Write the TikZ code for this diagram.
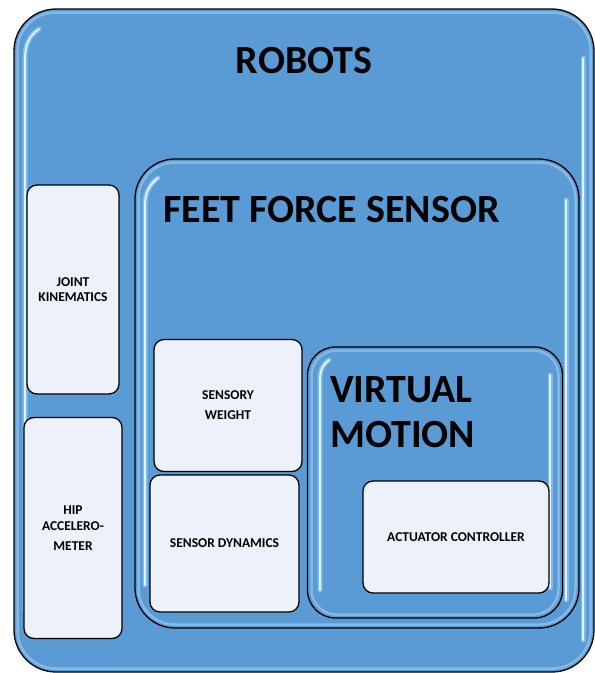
\documentclass[tikz,border=0pt]{standalone}
\usepackage{fontspec}
\setmainfont{Carlito}
\usetikzlibrary{calc}
\definecolor{boxblue}{RGB}{91,155,213}
\definecolor{paleface}{RGB}{237,241,249}
\definecolor{glint}{RGB}{228,249,255}
\definecolor{rimblue}{RGB}{150,198,238}
\definecolor{halo}{RGB}{160,215,250}

\tikzset{
  bluebox/.style={draw=black, line width=1.3pt, fill=boxblue, rectangle, inner sep=0pt},
  palebox/.style={draw=black, line width=1.3pt, fill=paleface, rectangle, rounded corners=10pt, inner sep=0pt},
  rim/.style={draw=rimblue, line width=2.5pt, opacity=0.7},
  halostroke/.style={draw=halo, line width=5pt, line cap=round, opacity=0.55},
  shine/.style={draw=glint, line width=1.8pt, line cap=round, opacity=0.95},
  title/.style={font=\bfseries\fontsize{40}{45}\selectfont, inner sep=0pt},
  small/.style={font=\bfseries\fontsize{13.5}{14.5}\selectfont, align=center, inner sep=0pt},
}

\begin{document}
\begin{tikzpicture}[x=1pt,y=-1pt]
\useasboundingbox (0,0) rectangle (595,673);

% outer frame
\node[bluebox, rounded corners=42pt, minimum width=580pt, minimum height=663pt] (robots) at (304,340.5) {};
\draw[rim, rounded corners=38pt] (17.5,12.5) rectangle (590.5,668.5);
\foreach \s in {halostroke,shine}{
  \draw[\s] (25,610) -- (25,58) .. controls (25,44) and (30,35) .. (39,29);
  \draw[\s] (583,58) -- (583,640);
}
\node[title] (robotsT) at (304,61) {ROBOTS};

% left column
\node[palebox, minimum width=92pt, minimum height=209pt] (joint) at (73,289.5) {};
\node[small] (jointT) at (joint.center) {JOINT\\KINEMATICS};
\node[palebox, minimum width=98pt, minimum height=221pt] (hip) at (73,528) {};
\node[small, font=\bfseries\fontsize{13.5}{16}\selectfont] (hipT) at (73,528) {HIP\\ACCELERO-\\[4pt]METER};

% feet force sensor frame
\node[bluebox, rounded corners=40pt, minimum width=444pt, minimum height=469pt] (feet) at (357,393.5) {};
\draw[rim, rounded corners=36pt] (138.5,162.5) rectangle (575.5,624.5);
\foreach \s in {halostroke,shine}{
  \draw[\s] (145,585) -- (145,205) .. controls (145,192) and (150,184) .. (158,178);
  \draw[\s] (566,200) -- (566,600);
}
\node[title, anchor=base west] (feetT) at (163,222) {FEET FORCE SENSOR};

% sensor boxes
\node[palebox, minimum width=148pt, minimum height=132pt] (weight) at (228,405.5) {};
\node[small, font=\bfseries\fontsize{13.5}{20}\selectfont] (weightT) at (weight.center) {SENSORY\\WEIGHT};
\node[palebox, minimum width=149pt, minimum height=137pt] (dyn) at (224.5,543.5) {};
\node[small] (dynT) at (dyn.center) {SENSOR DYNAMICS};

% virtual motion frame
\node[bluebox, rounded corners=28pt, minimum width=255pt, minimum height=271pt] (virt) at (435,482.5) {};
\draw[rim, rounded corners=25pt] (311.5,350.5) rectangle (558.5,614.5);
\foreach \s in {halostroke,shine}{
  \draw[\s] (320,590) -- (320,380) .. controls (320,370) and (323,364) .. (329,360);
  \draw[\s] (550,375) -- (550,588);
}
\node[title, anchor=base west] (virtT) at (330,402) {VIRTUAL};
\node[title, anchor=base west] (motionT) at (330,447) {MOTION};

% actuator
\node[palebox, minimum width=186pt, minimum height=112pt] (act) at (456,537) {};
\node[small] (actT) at (act.center) {ACTUATOR CONTROLLER};
\end{tikzpicture}
\end{document}
